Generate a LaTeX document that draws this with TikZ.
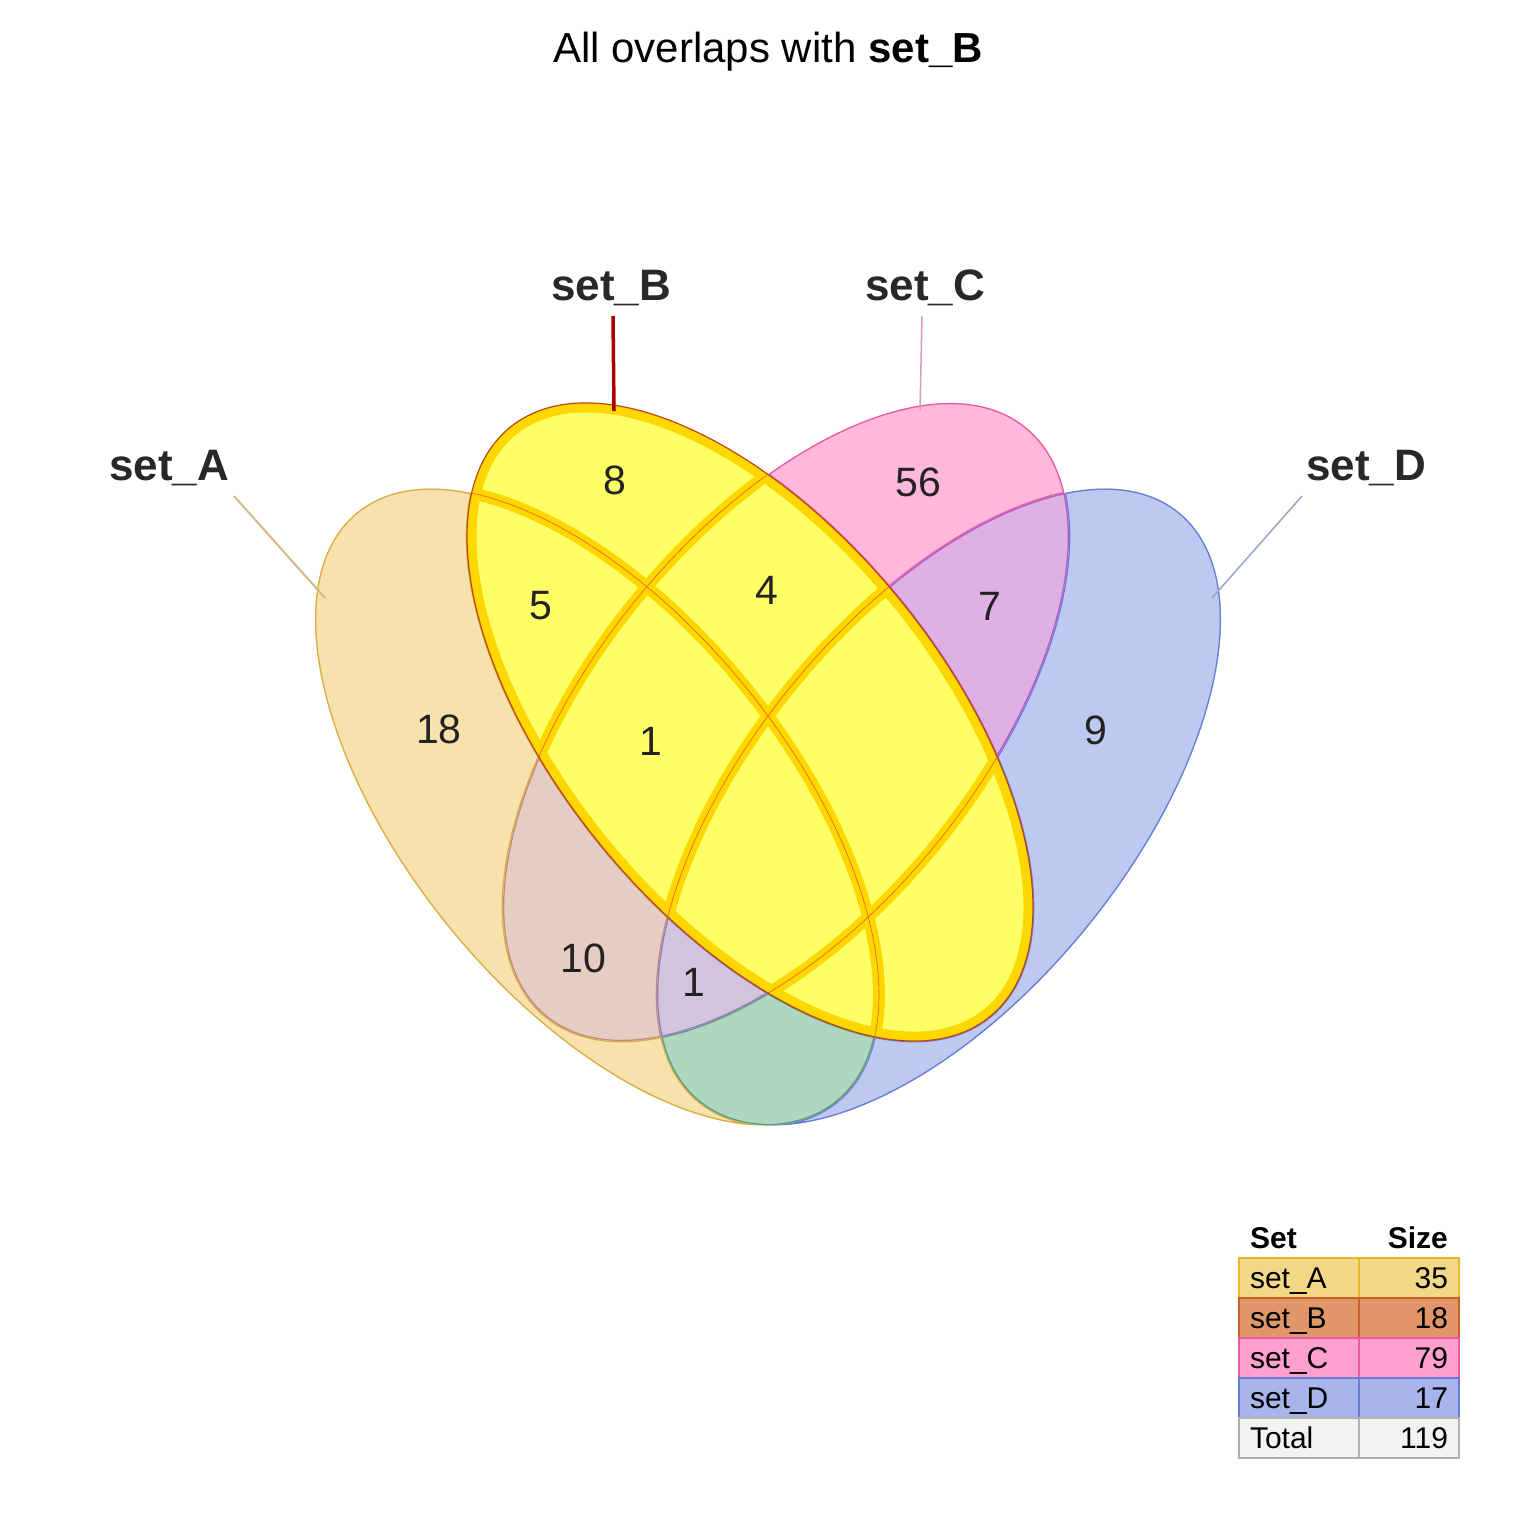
\documentclass[tikz,border=0pt]{standalone}
\usepackage{fontspec}
\setmainfont{Liberation Sans}
\definecolor{Afill}{RGB}{247,225,173}
\definecolor{Aline}{RGB}{219,173,66}
\definecolor{Cfill}{RGB}{255,184,220}
\definecolor{Cline}{RGB}{232,90,165}
\definecolor{Dfill}{RGB}{190,201,241}
\definecolor{Dline}{RGB}{104,124,214}
\definecolor{ACfill}{RGB}{230,205,195}
\definecolor{ACline}{RGB}{196,140,118}
\definecolor{ADfill}{RGB}{174,214,192}
\definecolor{ADline}{RGB}{92,158,118}
\definecolor{CDfill}{RGB}{222,176,228}
\definecolor{CDline}{RGB}{178,92,196}
\definecolor{ACDfill}{RGB}{209,196,220}
\definecolor{ACDline}{RGB}{148,122,190}
\definecolor{hifill}{RGB}{255,255,102}
\definecolor{hiborder}{RGB}{255,215,0}
\definecolor{redline}{RGB}{235,90,30}
\definecolor{Bline}{RGB}{190,70,20}
\definecolor{labelgray}{RGB}{40,40,40}
\definecolor{numgray}{RGB}{34,34,34}
\definecolor{leadA}{RGB}{212,186,135}
\definecolor{leadB}{RGB}{170,0,0}
\definecolor{leadC}{RGB}{225,150,190}
\definecolor{leadD}{RGB}{150,165,205}
\definecolor{tAf}{RGB}{243,216,136}
\definecolor{tAl}{RGB}{230,185,40}
\definecolor{tBf}{RGB}{224,150,104}
\definecolor{tBl}{RGB}{200,96,40}
\definecolor{tCf}{RGB}{255,160,208}
\definecolor{tCl}{RGB}{235,90,160}
\definecolor{tDf}{RGB}{168,180,236}
\definecolor{tDl}{RGB}{104,124,214}
\definecolor{tTf}{RGB}{242,242,242}
\definecolor{tTl}{RGB}{176,176,176}
\def\ElA{(597,-807) circle [x radius=380pt, y radius=191pt, rotate=-50.85]}
\def\ElB{(750,-722) circle [x radius=380pt, y radius=193.5pt, rotate=-50.85]}
\def\ElC{(786,-722) circle [x radius=380pt, y radius=193.5pt, rotate=50.85]}
\def\ElD{(939,-807) circle [x radius=380pt, y radius=191pt, rotate=50.85]}
\def\BigBox{(-20,20) rectangle (1556,-1556)}
\newcommand\cin[1]{\clip #1;}
\newcommand\cout[1]{\clip \BigBox #1;}
\newcommand\vreg[3]{\begin{scope}[even odd rule]#1\fill[#2] \BigBox;
  \draw[#3, line width=2.6pt] \ElA \ElB \ElC \ElD;\end{scope}}
\newcommand\breg[1]{\begin{scope}[even odd rule]\clip \ElB; #1
  \draw[hiborder, line width=12pt] \ElA \ElC \ElD;\end{scope}}
\tikzset{
  setlabel/.style={font=\fontsize{44}{50}\selectfont\bfseries, text=labelgray, anchor=base, inner sep=0pt},
  count/.style={font=\fontsize{41}{48}\selectfont, text=numgray, inner sep=0pt},
  tcell/.style 2 args={fill=#1, draw=#2, line width=1.5pt, minimum height=40pt, inner ysep=0pt,
    inner xsep=11pt, text height=21pt, text depth=0pt, font=\fontsize{30}{36}\selectfont, anchor=center},
  lcol/.style={text width=98pt, align=left},
  rcol/.style={text width=78pt, align=right},
  thead/.style={font=\fontsize{30}{36}\selectfont\bfseries, inner sep=0pt}
}
\begin{document}
\begin{tikzpicture}[x=1pt,y=1pt]
\useasboundingbox (0,0) rectangle (1536,-1536);
\fill[white] (0,0) rectangle (1536,-1536);
% regions outside set_B
\vreg{\cin\ElA \cout\ElB \cout\ElC \cout\ElD}{Afill}{Aline}
\vreg{\cin\ElC \cout\ElA \cout\ElB \cout\ElD}{Cfill}{Cline}
\vreg{\cin\ElD \cout\ElA \cout\ElB \cout\ElC}{Dfill}{Dline}
\vreg{\cin\ElA \cin\ElC \cout\ElB \cout\ElD}{ACfill}{ACline}
\vreg{\cin\ElA \cin\ElD \cout\ElB \cout\ElC}{ADfill}{ADline}
\vreg{\cin\ElC \cin\ElD \cout\ElA \cout\ElB}{CDfill}{CDline}
\vreg{\cin\ElA \cin\ElC \cin\ElD \cout\ElB}{ACDfill}{ACDline}
% set_B regions highlighted
\fill[hifill] \ElB;
\breg{\cout\ElA \cout\ElC \cout\ElD}
\breg{\cin\ElA \cout\ElC \cout\ElD}
\breg{\cout\ElA \cin\ElC \cout\ElD}
\breg{\cout\ElA \cout\ElC \cin\ElD}
\breg{\cin\ElA \cin\ElC \cout\ElD}
\breg{\cin\ElA \cout\ElC \cin\ElD}
\breg{\cout\ElA \cin\ElC \cin\ElD}
\breg{\cin\ElA \cin\ElC \cin\ElD}
\begin{scope}\clip \ElB;
  \draw[hiborder, line width=19pt] \ElB;
  \draw[redline, line width=0.6pt] \ElA \ElC \ElD;
\end{scope}
\draw[Bline, line width=1.2pt] \ElB;
% title
\node[anchor=base, font=\fontsize{42}{50}\selectfont, inner sep=0pt] (title) at (768,-63)
  {All overlaps with \textbf{set\_B}};
% set labels and leaders
\node[setlabel] (labA) at (169,-480) {set\_A};
\node[setlabel] (labB) at (611,-300) {set\_B};
\node[setlabel] (labC) at (925,-300) {set\_C};
\node[setlabel] (labD) at (1366,-480) {set\_D};
\coordinate (lA1) at (234,-496); \coordinate (lA2) at (325,-598);
\coordinate (lB1) at (613,-316); \coordinate (lB2) at (614,-411);
\coordinate (lC1) at (922,-316); \coordinate (lC2) at (920,-410);
\coordinate (lD1) at (1302,-496); \coordinate (lD2) at (1212,-598);
\draw[leadA, line width=2pt] (lA1) -- (lA2);
\draw[leadB, line width=3.5pt] (lB1) -- (lB2);
\draw[leadC, line width=1.5pt] (lC1) -- (lC2);
\draw[leadD, line width=1.5pt] (lD1) -- (lD2);
% counts
\node[count] (n8) at (615,-480) {8};
\node[count] (n5) at (541,-606) {5};
\node[count] (n4) at (767,-590) {4};
\node[count] (n56) at (918,-482) {56};
\node[count] (n7) at (990,-606) {7};
\node[count] (n18) at (439,-729) {18};
\node[count] (n1a) at (651,-741) {1};
\node[count] (n9) at (1096,-730) {9};
\node[count] (n10) at (583,-958) {10};
\node[count] (n1b) at (694,-982) {1};
% table
\node[thead, anchor=base west] (hSet) at (1250,-1248) {Set};
\node[thead, anchor=base east] (hSize) at (1448,-1248) {Size};
\node[tcell={tAf}{tAl}, lcol] (rA1) at (1299,-1278) {set\_A};
\node[tcell={tAf}{tAl}, rcol] (rA2) at (1409,-1278) {35};
\node[tcell={tBf}{tBl}, lcol] (rB1) at (1299,-1318) {set\_B};
\node[tcell={tBf}{tBl}, rcol] (rB2) at (1409,-1318) {18};
\node[tcell={tCf}{tCl}, lcol] (rC1) at (1299,-1358) {set\_C};
\node[tcell={tCf}{tCl}, rcol] (rC2) at (1409,-1358) {79};
\node[tcell={tDf}{tDl}, lcol] (rD1) at (1299,-1398) {set\_D};
\node[tcell={tDf}{tDl}, rcol] (rD2) at (1409,-1398) {17};
\node[tcell={tTf}{tTl}, lcol] (rT1) at (1299,-1438) {Total};
\node[tcell={tTf}{tTl}, rcol] (rT2) at (1409,-1438) {119};
\end{tikzpicture}
\end{document}
